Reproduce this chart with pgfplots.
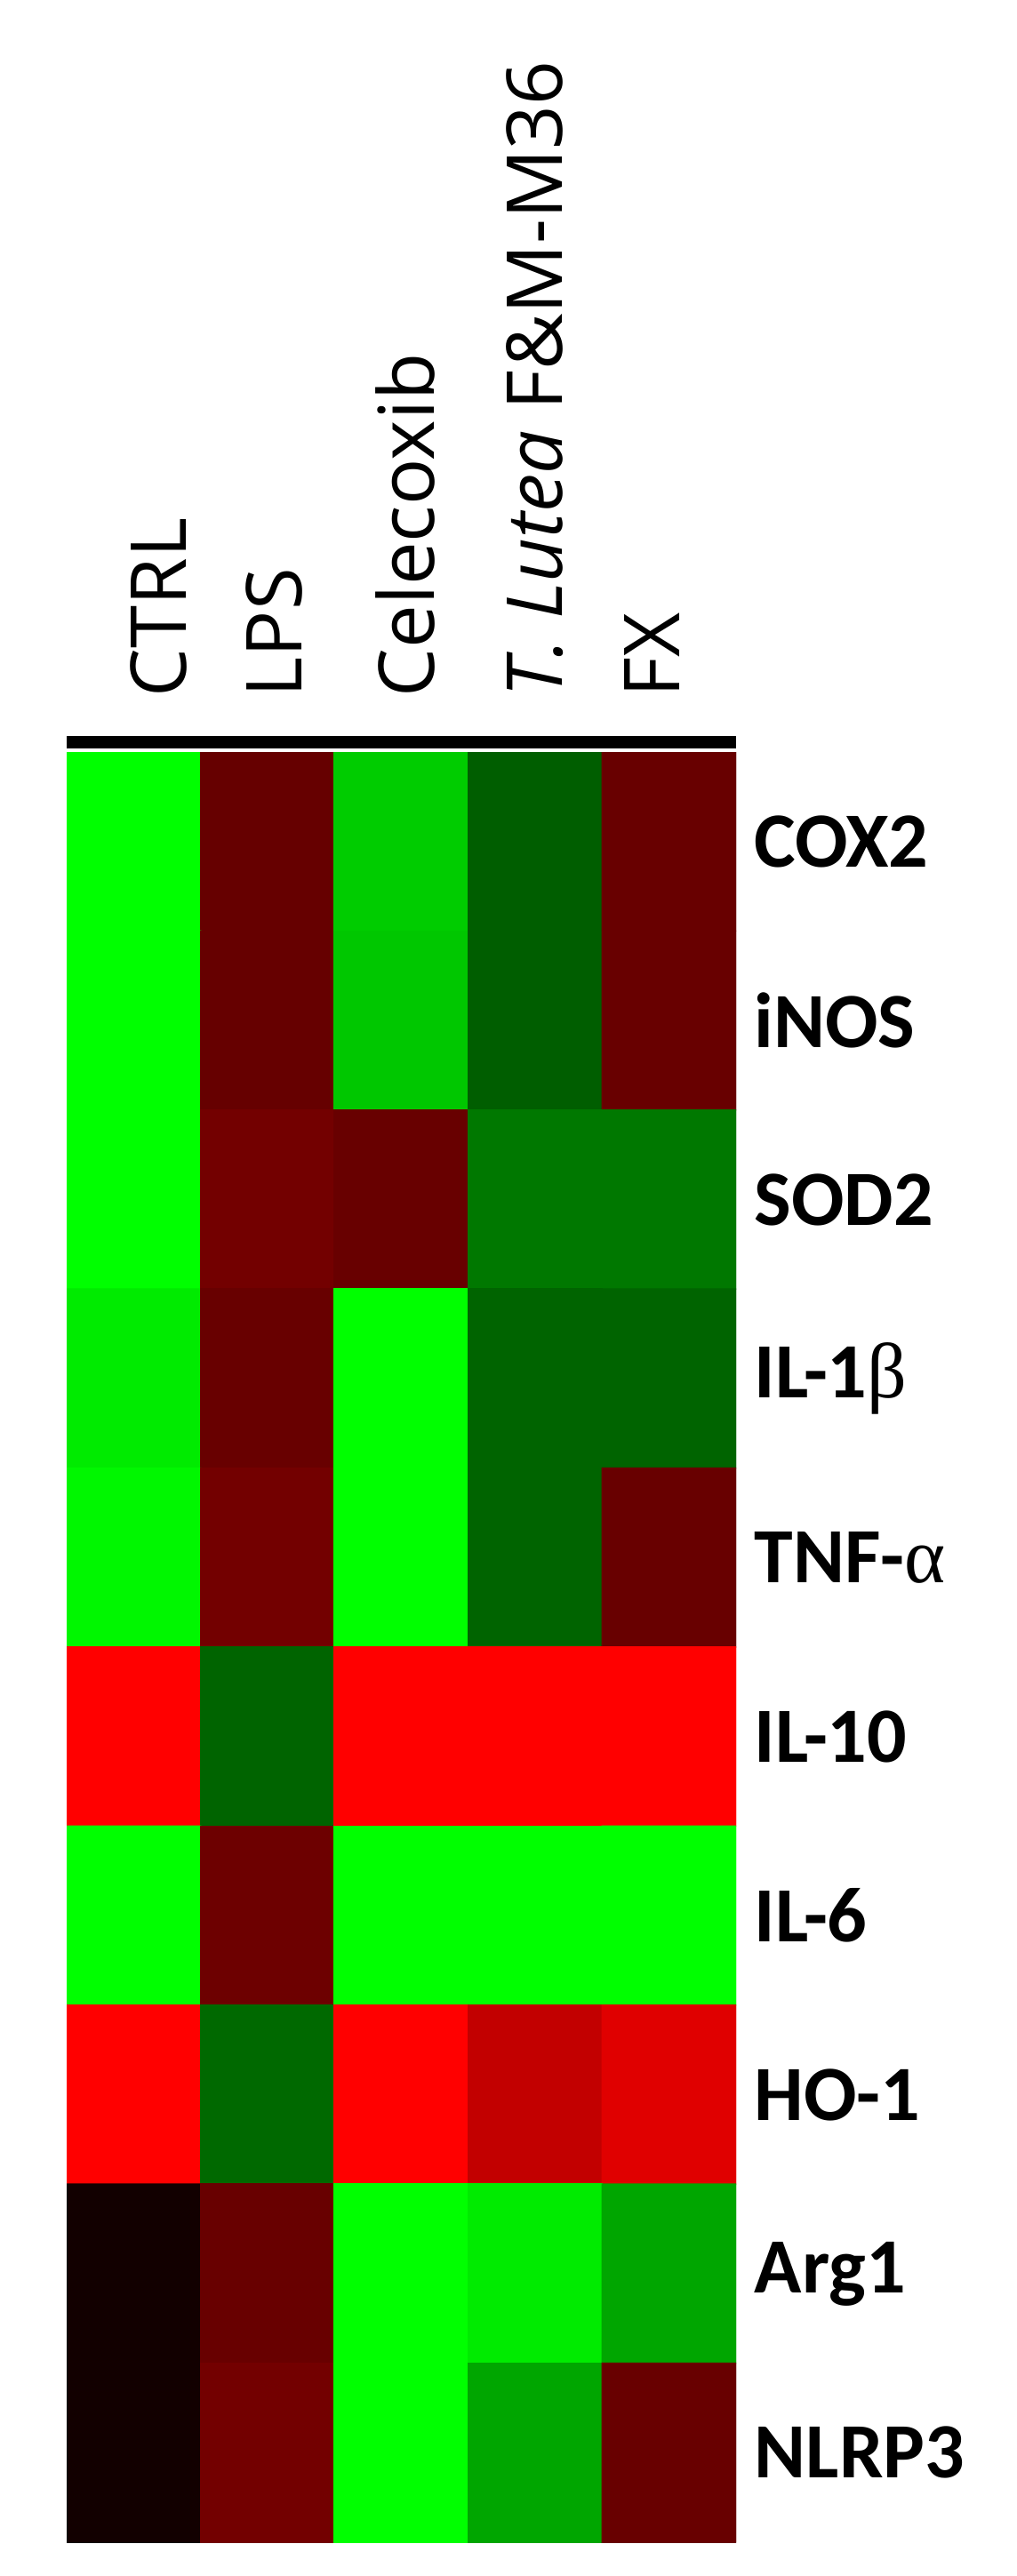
\documentclass[border=0pt]{standalone}
\usepackage{fontspec}
\setmainfont{Open Sans}
\newfontfamily\rowfont{Carlito}
\newfontfamily\grk{Liberation Serif}
\usepackage{pgfplots}
\usepackage{pgfplotstable}
\pgfplotsset{compat=1.18}

% cells: x = group (CTRL..FX), y = gene row (COX2..NLRP3), v = -1 green .. 0 black .. 1 red
\pgfplotstableread{
x y v
0 0 -1.00
1 0 0.40
2 0 -0.80
3 0 -0.37
4 0 0.41
0 1 -1.00
1 1 0.40
2 1 -0.78
3 1 -0.37
4 1 0.41
0 2 -1.00
1 2 0.45
2 2 0.41
3 2 -0.47
4 2 -0.47
0 3 -0.92
1 3 0.41
2 3 -1.00
3 3 -0.39
4 3 -0.39
0 4 -0.97
1 4 0.45
2 4 -1.00
3 4 -0.39
4 4 0.41
0 5 1.00
1 5 -0.39
2 5 1.00
3 5 1.00
4 5 1.00
0 6 -1.00
1 6 0.43
2 6 -1.00
3 6 -1.00
4 6 -1.00
0 7 1.00
1 7 -0.41
2 7 1.00
3 7 0.76
4 7 0.88
0 8 0.07
1 8 0.41
2 8 -1.00
3 8 -0.92
4 8 -0.65
0 9 0.07
1 9 0.45
2 9 -1.00
3 9 -0.65
4 9 0.41
}\cells

\begin{document}
\begin{tikzpicture}[x=1pt,y=1pt]
\useasboundingbox (0,0) rectangle (286,724.5);
\begin{axis}[
    name=hm,
    at={(18.75pt,9.5pt)}, anchor=south west,
    scale only axis,
    width=188.25pt, height=503.5pt,
    xmin=-0.5, xmax=4.5, ymin=-0.5, ymax=9.5,
    y dir=reverse,
    axis line style={draw=none},
    major tick length=0pt,
    tick style={draw=none},
    colormap={rg}{rgb255(0cm)=(0,255,0) rgb255(1cm)=(0,0,0) rgb255(2cm)=(255,0,0)},
    point meta min=-1, point meta max=1,
    xtick={0.19,1.05,2.03,3.0,3.87},
    xticklabels={CTRL, LPS, Celecoxib, \textit{T. Lutea} F\&M-M36, FX},
    xticklabel pos=top,
    xticklabel shift=15.25pt,
    xticklabel style={rotate=90, anchor=west, inner sep=0pt,
        font=\fontsize{21.7}{21.7}\selectfont},
    ytick={0,...,9},
    yticklabels={COX2, iNOS, SOD2, IL-1{\mdseries\grk β}, TNF-{\mdseries\grk α},
        IL-10, IL-6, HO-1, Arg1, NLRP3},
    yticklabel pos=right,
    yticklabel style={anchor=west, inner sep=0pt, xshift=5pt,
        font=\rowfont\bfseries\fontsize{22}{22}\selectfont},
]
\addplot[matrix plot*, mesh/cols=5, point meta=explicit] table[x=x, y=y, meta=v] {\cells};
\end{axis}
\draw[black, line width=3.5pt] ([yshift=2.75pt]hm.north west) -- ([yshift=2.75pt]hm.north east);
\end{tikzpicture}
\end{document}
